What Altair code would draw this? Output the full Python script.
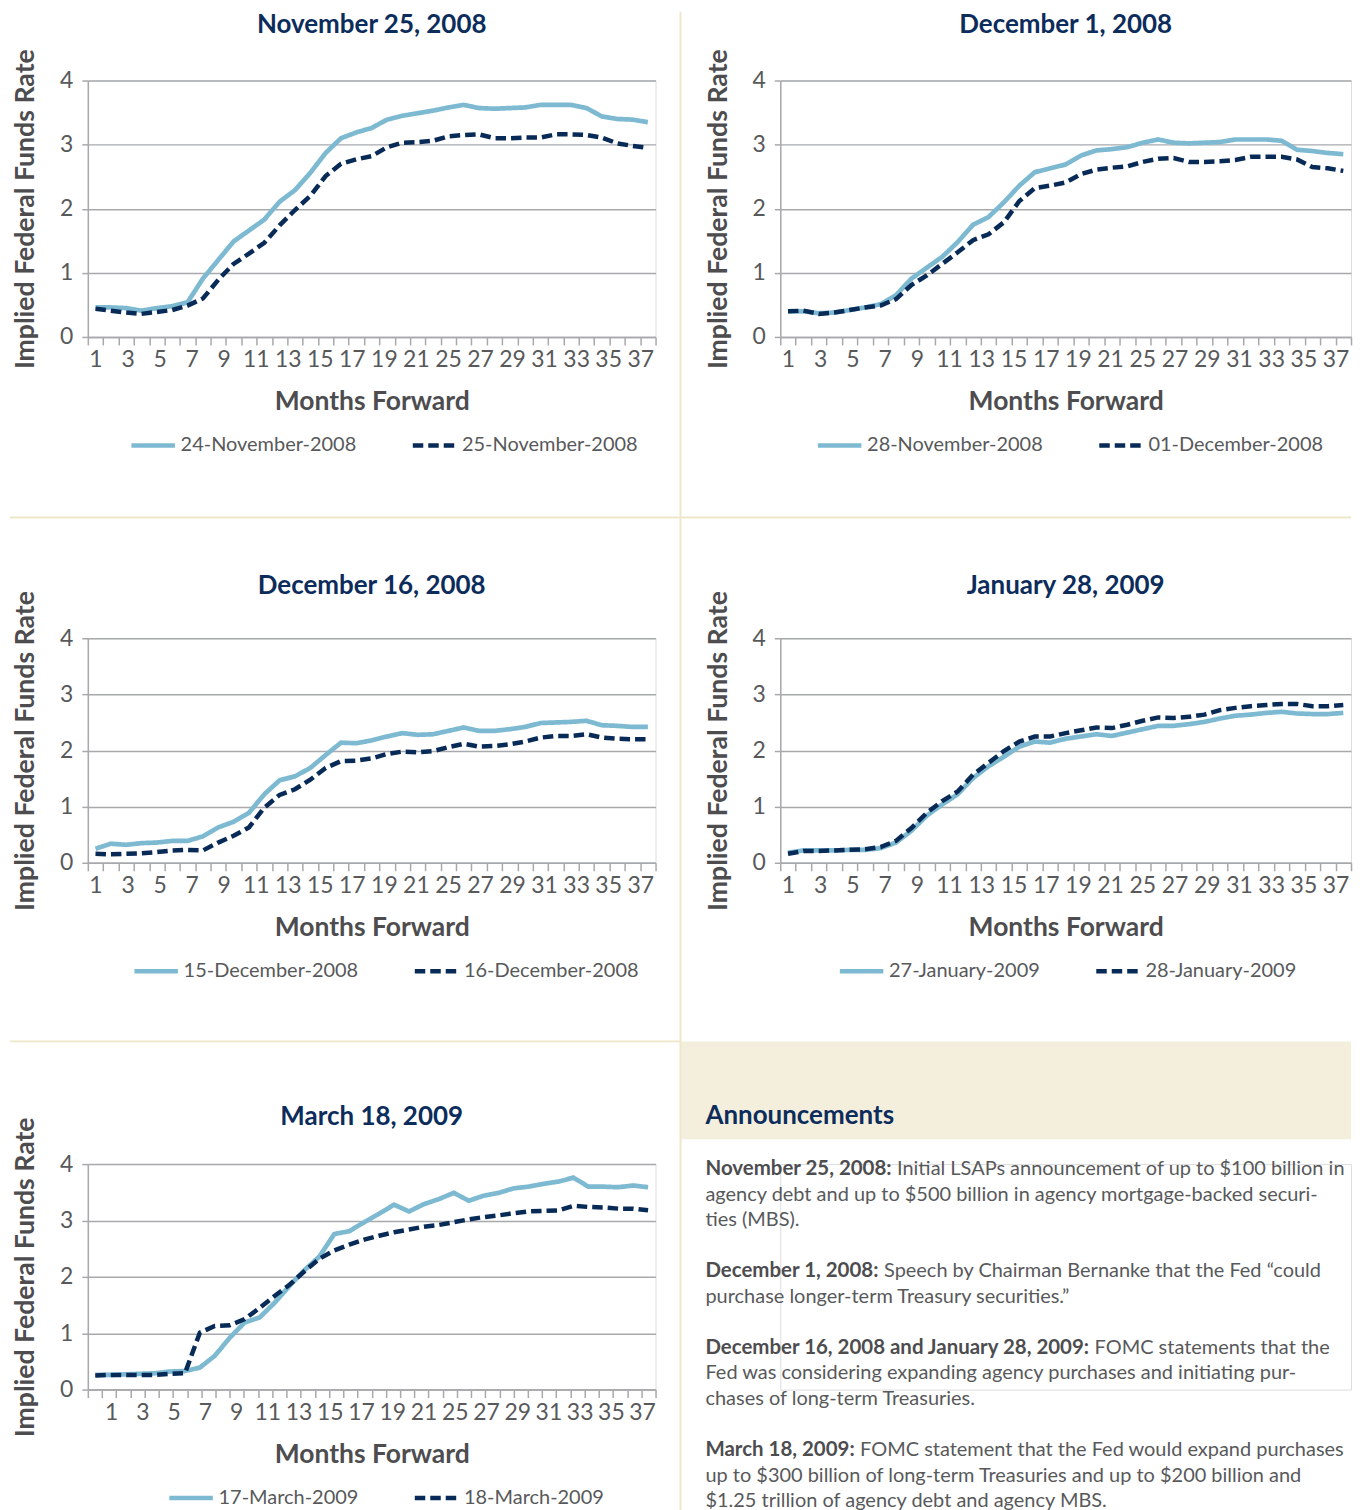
import altair as alt
import pandas as pd

FONT = "Lato"
NAVY = "#0c2c5c"
LIGHT = "#7dbad2"
DARK = "#082a57"
TXT = "#58595b"
TXT_B = "#4d4d4f"
GRID = "#a7a9ac"
BEIGE_LINE = "#efe7c9"
BEIGE_FILL = "#f4efdc"

# x-axis tick labels (as printed in the source)
x_labels = ["1", "3", "5", "7", "9", "11", "13", "15", "17", "19", "21",
            "25", "27", "29", "31", "33", "35", "37"]

# November 25, 2008
nov24 = [0.46, 0.46, 0.45, 0.41, 0.45, 0.48, 0.54, 0.91, 1.20, 1.49, 1.66, 1.83, 2.11,
         2.29, 2.56, 2.87, 3.10, 3.19, 3.26, 3.39, 3.45, 3.49, 3.53, 3.58, 3.62, 3.57,
         3.56, 3.57, 3.58, 3.62, 3.62, 3.62, 3.57, 3.44, 3.40, 3.39, 3.35]
nov25 = [0.44, 0.41, 0.38, 0.36, 0.39, 0.42, 0.49, 0.60, 0.89, 1.14, 1.30, 1.47, 1.74,
         1.98, 2.20, 2.51, 2.70, 2.77, 2.82, 2.96, 3.03, 3.04, 3.06, 3.13, 3.15, 3.16,
         3.10, 3.10, 3.11, 3.11, 3.16, 3.16, 3.15, 3.11, 3.02, 2.98, 2.95]
# December 1, 2008
nov28 = [0.40, 0.40, 0.37, 0.38, 0.42, 0.46, 0.51, 0.65, 0.91, 1.08, 1.25, 1.48, 1.75,
         1.87, 2.10, 2.36, 2.57, 2.63, 2.69, 2.83, 2.91, 2.93, 2.96, 3.03, 3.08, 3.03,
         3.02, 3.03, 3.04, 3.08, 3.08, 3.08, 3.06, 2.92, 2.90, 2.87, 2.85]
dec01 = [0.40, 0.41, 0.36, 0.38, 0.42, 0.46, 0.49, 0.59, 0.81, 0.96, 1.14, 1.32, 1.51,
         1.60, 1.79, 2.12, 2.32, 2.36, 2.41, 2.54, 2.61, 2.64, 2.66, 2.73, 2.78, 2.79,
         2.73, 2.73, 2.74, 2.76, 2.81, 2.81, 2.81, 2.77, 2.65, 2.63, 2.59]
# December 16, 2008
dec15 = [0.25, 0.34, 0.32, 0.35, 0.36, 0.39, 0.39, 0.47, 0.63, 0.73, 0.89, 1.22, 1.47,
         1.54, 1.69, 1.92, 2.14, 2.13, 2.18, 2.25, 2.31, 2.28, 2.29, 2.35, 2.41, 2.35,
         2.35, 2.38, 2.42, 2.49, 2.50, 2.51, 2.53, 2.45, 2.44, 2.42, 2.42]
dec16 = [0.16, 0.15, 0.16, 0.17, 0.19, 0.22, 0.23, 0.22, 0.36, 0.48, 0.63, 0.98, 1.21,
         1.31, 1.48, 1.69, 1.81, 1.82, 1.86, 1.94, 1.98, 1.97, 1.99, 2.06, 2.12, 2.07,
         2.08, 2.11, 2.16, 2.23, 2.26, 2.26, 2.29, 2.23, 2.21, 2.20, 2.20]
# January 28, 2009
jan27 = [0.18, 0.22, 0.22, 0.22, 0.23, 0.23, 0.26, 0.36, 0.57, 0.84, 1.04, 1.22, 1.51,
         1.72, 1.89, 2.07, 2.16, 2.14, 2.21, 2.25, 2.29, 2.26, 2.32, 2.38, 2.44, 2.44,
         2.47, 2.51, 2.57, 2.62, 2.64, 2.67, 2.69, 2.66, 2.65, 2.65, 2.67]
jan28 = [0.16, 0.21, 0.21, 0.22, 0.23, 0.24, 0.28, 0.39, 0.62, 0.89, 1.10, 1.27, 1.57,
         1.78, 1.99, 2.16, 2.25, 2.25, 2.31, 2.36, 2.41, 2.40, 2.46, 2.53, 2.59, 2.58,
         2.60, 2.64, 2.72, 2.76, 2.79, 2.81, 2.83, 2.83, 2.79, 2.79, 2.81]
# March 18, 2009
mar17 = [0.26, 0.26, 0.27, 0.28, 0.29, 0.32, 0.33, 0.39, 0.60, 0.92, 1.19, 1.28, 1.54,
         1.84, 2.12, 2.36, 2.76, 2.81, 2.97, 3.12, 3.28, 3.16, 3.29, 3.38, 3.49, 3.35,
         3.44, 3.49, 3.57, 3.60, 3.65, 3.69, 3.76, 3.60, 3.60, 3.59, 3.62, 3.59]
mar18 = [0.25, 0.26, 0.26, 0.26, 0.26, 0.28, 0.29, 1.01, 1.13, 1.14, 1.25, 1.45, 1.66,
         1.86, 2.10, 2.32, 2.47, 2.57, 2.66, 2.73, 2.79, 2.84, 2.89, 2.92, 2.97, 3.02,
         3.06, 3.09, 3.13, 3.16, 3.17, 3.18, 3.26, 3.24, 3.23, 3.21, 3.21, 3.18]

ann_title = "Announcements"
ann_leads = ["November 25, 2008:", "December 1, 2008:",
             "December 16, 2008 and January 28, 2009:", "March 18, 2009:"]
ann_lines = [
    ["Initial LSAPs announcement of up to $100 billion in",
     "agency debt and up to $500 billion in agency mortgage-backed securi-",
     "ties (MBS)."],
    ["Speech by Chairman Bernanke that the Fed \u201ccould",
     "purchase longer-term Treasury securities.\u201d"],
    ["FOMC statements that the",
     "Fed was considering expanding agency purchases and initiating pur-",
     "chases of long-term Treasuries."],
    ["FOMC statement that the Fed would expand purchases",
     "up to $300 billion of long-term Treasuries and up to $200 billion and",
     "$1.25 trillion of agency debt and agency MBS."],
]
ann_lead_px = [192, 179, 390, 155]   # width of the bold lead-in + space
ANN_LEFT = -75                        # text left edge relative to the panel origin


def panel(title, names, before, after, width, height, title_offset,
          legend_x, n_ticks, lab_first, lab_last):
    n = len(before)
    df = pd.DataFrame({
        "month": list(range(1, n + 1)) * 2,
        "rate": before + after,
        "series": [names[0]] * n + [names[1]] * n,
        "kind": ["before"] * n + ["after"] * n,
    })
    tick_vals = [0.5 + k * n / n_ticks for k in range(n_ticks + 1)]
    step = (lab_last - lab_first) / (len(x_labels) - 1)
    lab_vals = [lab_first + j * step for j in range(len(x_labels))]
    label_expr = ("[" + ",".join("'%s'" % l for l in x_labels) + "]"
                  + "[round((datum.value - %f) / %f)]" % (lab_first, step))
    xscale = alt.Scale(domain=[0.5, n + 0.5], nice=False, zero=False)
    yscale = alt.Scale(domain=[0, 4], nice=False)
    leg = alt.Legend(orient="none", legendX=legend_x, legendY=height + 84,
                     direction="horizontal", title=None, labelFontSize=20,
                     labelColor=TXT, labelFont=FONT, symbolType="stroke",
                     symbolSize=1900, symbolStrokeWidth=4.5, labelOffset=3,
                     columnPadding=46, labelLimit=400)
    color = alt.Color("series:N", scale=alt.Scale(domain=names, range=[LIGHT, DARK]),
                      legend=leg)
    dash = alt.StrokeDash("series:N",
                          scale=alt.Scale(domain=names, range=[[1, 0], [10.5, 5]]),
                          legend=leg)
    tick_axis = alt.Axis(values=tick_vals, labels=False, ticks=True, tickSize=8,
                         tickColor=GRID, tickWidth=1.5, domain=True, domainColor=GRID,
                         domainWidth=1.5, grid=False, title=None, orient="bottom")
    y_axis = alt.Axis(values=[0, 1, 2, 3, 4], grid=True, gridColor=GRID, gridWidth=1.5,
                      domain=True, domainColor=GRID, domainWidth=1.5, ticks=True,
                      tickSize=6, tickColor=GRID, tickWidth=1.5, labelFontSize=23,
                      labelColor=TXT, labelPadding=9, labelFlush=False,
                      title="Implied Federal Funds Rate", titleFontSize=26.7,
                      titleFontWeight="bold", titleColor=TXT_B, titlePadding=20)
    lab_axis = alt.Axis(values=lab_vals, labelExpr=label_expr, ticks=False, tickSize=0,
                        domain=False, grid=False, labelFontSize=23, labelColor=TXT,
                        labelPadding=12, labelFlush=False, labelOverlap=False,
                        title="Months Forward", titleFontSize=26.5, titleFontWeight="bold",
                        titleColor=TXT_B, titlePadding=17, orient="bottom")
    base = alt.Chart(df)
    light = base.transform_filter("datum.kind == 'before'").mark_line(
        strokeWidth=4.7).encode(
        x=alt.X("month:Q", scale=xscale, axis=tick_axis),
        y=alt.Y("rate:Q", scale=yscale, axis=y_axis),
        color=color, strokeDash=dash)
    dark = base.transform_filter("datum.kind == 'after'").mark_line(
        strokeWidth=4.5).encode(
        x=alt.X("month:Q", scale=xscale, axis=tick_axis),
        y=alt.Y("rate:Q", scale=yscale, axis=y_axis),
        color=color, strokeDash=dash)
    lines = alt.layer(light, dark)
    labels = base.mark_point(opacity=0).encode(
        x=alt.X("month:Q", scale=xscale, axis=lab_axis),
        y=alt.Y("rate:Q", scale=yscale, axis=y_axis))
    return alt.layer(lines, labels).resolve_axis(x="independent").properties(
        width=width, height=height,
        title=alt.Title(title, fontSize=26, fontWeight="bold", color=NAVY, font=FONT,
                        anchor="middle", frame="group", offset=title_offset))


p1 = panel("November 25, 2008", ["24-November-2008", "25-November-2008"], nov24, nov25,
           569, 257, 11, 41, 37, 1.0, 36.5)
p2 = panel("December 1, 2008", ["28-November-2008", "01-December-2008"], nov28, dec01,
           572, 257, 11, 35, 37, 1.0, 36.5)
p3 = panel("December 16, 2008", ["15-December-2008", "16-December-2008"], dec15, dec16,
           569, 225, -8, 44, 37, 1.0, 36.5)
p4 = panel("January 28, 2009", ["27-January-2009", "28-January-2009"], jan27, jan28,
           572, 225, -8, 57, 37, 1.0, 36.5)
p5 = panel("March 18, 2009", ["17-March-2009", "18-March-2009"], mar17, mar18,
           569, 226, -13, 79, 40, 2.06, 37.6)

# announcements panel (bottom right); also carries the page separators
one = pd.DataFrame({"a": [0]})
decor = [
    alt.Chart(one).mark_rect(color=BEIGE_FILL, clip=False).encode(
        x=alt.value(-100), x2=alt.value(572), y=alt.value(-123), y2=alt.value(-25)),
    alt.Chart(one).mark_rule(color=BEIGE_LINE, strokeWidth=2, clip=False).encode(
        x=alt.value(-100), y=alt.value(-1155), y2=alt.value(348)),
    alt.Chart(one).mark_rule(color=BEIGE_LINE, strokeWidth=2, clip=False).encode(
        x=alt.value(-772), x2=alt.value(572), y=alt.value(-648)),
    alt.Chart(one).mark_rule(color=BEIGE_LINE, strokeWidth=2, clip=False).encode(
        x=alt.value(-772), x2=alt.value(-100), y=alt.value(-123)),
]

rows = []
line = 0
for lead, lead_px, lines in zip(ann_leads, ann_lead_px, ann_lines):
    rows.append({"line": line, "text": lead, "bold": 1, "xoff": ANN_LEFT})
    for k, t in enumerate(lines):
        rows.append({"line": line + k, "text": t, "bold": 0,
                     "xoff": ANN_LEFT + (lead_px if k == 0 else 0)})
    line += len(lines) + 1
ann_df = pd.DataFrame(rows)
yl = alt.Scale(domain=[0, 13], range=[5, 5 + 13 * 25.6])
ann_head = alt.Chart(one).mark_text(
    text=ann_title, font=FONT, fontSize=26, fontWeight="bold", color=NAVY,
    align="left", baseline="middle").encode(x=alt.value(ANN_LEFT), y=alt.value(-48))
ann_bold = alt.Chart(ann_df).transform_filter("datum.bold == 1").mark_text(
    font=FONT, fontSize=20.5, fontWeight="bold", color=TXT_B, align="left",
    baseline="middle").encode(
    x=alt.X("xoff:Q", scale=None), y=alt.Y("line:Q", scale=yl, axis=None), text="text:N")
ann_reg = alt.Chart(ann_df).transform_filter("datum.bold == 0").mark_text(
    font=FONT, fontSize=20, color=TXT, align="left", baseline="middle").encode(
    x=alt.X("xoff:Q", scale=None), y=alt.Y("line:Q", scale=yl, axis=None), text="text:N")
ann = alt.layer(*decor, ann_head, ann_bold, ann_reg).properties(width=572, height=226)

chart = alt.concat(
    p1, p2, p3, p4, p5, ann, columns=2, bounds="flush",
    spacing=alt.RowColnumber(row=302, column=125)
).resolve_scale(
    x="independent", y="independent", color="independent", strokeDash="independent"
).resolve_legend(
    color="independent", strokeDash="independent"
).properties(
    padding=0, background="white"
).configure_view(strokeWidth=0, stroke="transparent").configure(font=FONT)

chart.save("out.html", embed_options={"renderer": "svg", "actions": False})
